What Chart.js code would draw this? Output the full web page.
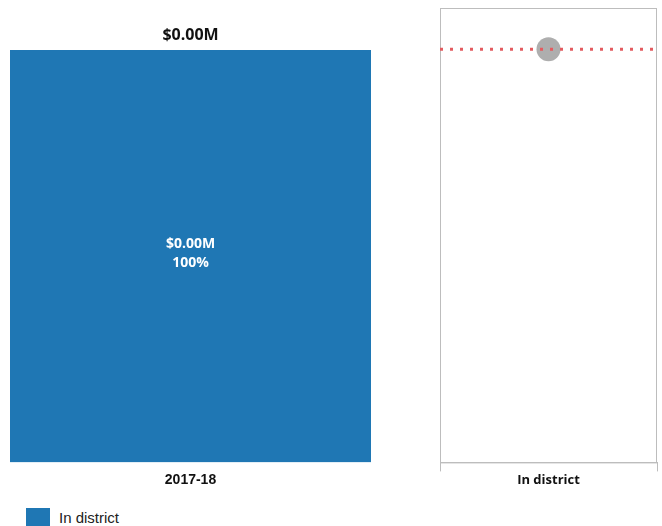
<!DOCTYPE html>
<html lang="en">
<head>
    <meta charset="UTF-8">
    <title>In district spending</title>
    <script src="https://cdn.jsdelivr.net/npm/chart.js"></script>
    <style>
        body { margin: 0; width: 662px; height: 526px; overflow: hidden; background: #fff; }
        #barWrap { position: absolute; left: 0; top: 0; width: 380px; height: 500px; }
        #dotWrap { position: absolute; left: 430px; top: 0; width: 232px; height: 500px; }
        #legend { position: absolute; left: 26px; top: 508px; font: 15px "Liberation Sans", Arial, sans-serif; color: #222; }
        #legend span.box { position: absolute; left: 0; top: 0; width: 24px; height: 24px; background: #1f77b4; }
        #legend span.txt { position: absolute; left: 33px; top: 1px; white-space: nowrap; }
    </style>
</head>
<body>
    <div id="barWrap"><canvas id="barChart"></canvas></div>
    <div id="dotWrap"><canvas id="dotChart"></canvas></div>
    <div id="legend"><span class="box"></span><span class="txt">In district</span></div>

    <script>
        // data
        const years = ['2017-18'];
        const seriesName = 'In district';
        const sharePct = [100];
        const amountLabels = ['$0.00M'];
        const totalLabels = ['$0.00M'];

        const categories = ['In district'];
        const pointValues = [0];
        const targetValues = [0];

        const blue = '#1f77b4';

        // labels on and above the stacked bar
        const barLabels = {
            id: 'barLabels',
            afterDatasetsDraw(chart) {
                const ctx = chart.ctx;
                const meta = chart.getDatasetMeta(0);
                ctx.save();
                ctx.textAlign = 'center';
                ctx.textBaseline = 'middle';
                meta.data.forEach((bar, i) => {
                    const mid = (bar.y + bar.base) / 2;
                    ctx.fillStyle = '#fff';
                    ctx.font = 'bold 14px "Open Sans"';
                    ctx.fillText(amountLabels[i], bar.x, mid - 12);
                    ctx.fillText(sharePct[i] + '%', bar.x, mid + 7);
                    ctx.fillStyle = '#111';
                    ctx.font = 'bold 16px "Open Sans"';
                    ctx.fillText(totalLabels[i], bar.x, bar.y - 15);
                });
                ctx.restore();
            }
        };

        new Chart(document.getElementById('barChart'), {
            type: 'bar',
            data: {
                labels: years,
                datasets: [{
                    label: seriesName,
                    data: sharePct,
                    backgroundColor: blue,
                    barPercentage: 1,
                    categoryPercentage: 1
                }]
            },
            options: {
                responsive: true,
                maintainAspectRatio: false,
                animation: false,
                layout: { autoPadding: false, padding: { left: 10, right: 9, top: 50, bottom: 9 } },
                plugins: { legend: { display: false }, tooltip: { enabled: false } },
                scales: {
                    x: {
                        stacked: true,
                        grid: { display: false },
                        border: { display: false },
                        ticks: { padding: 2, color: '#111', font: { family: '"Liberation Sans"', size: 14, weight: 'bold' } }
                    },
                    y: { stacked: true, display: false, min: 0, max: 100 }
                }
            },
            plugins: [barLabels]
        });

        // grey frame round the plot area
        const frame = {
            id: 'frame',
            beforeDatasetsDraw(chart) {
                const a = chart.chartArea;
                const ctx = chart.ctx;
                ctx.save();
                ctx.strokeStyle = '#bdbdbd';
                ctx.lineWidth = 1;
                ctx.strokeRect(a.left + 0.5, a.top + 0.5, a.right - a.left - 1, a.bottom - a.top);
                ctx.restore();
            }
        };

        new Chart(document.getElementById('dotChart'), {
            type: 'line',
            data: {
                datasets: [{
                    label: 'Target',
                    data: [{ x: 0, y: targetValues[0] }, { x: 1, y: targetValues[0] }],
                    borderColor: '#e35b5f',
                    borderWidth: 3,
                    borderDash: [3, 7],
                    pointRadius: 0,
                    fill: false
                }, {
                    label: categories[0],
                    data: pointValues.map(v => ({ x: 0.5, y: v })),
                    showLine: false,
                    pointRadius: 12,
                    pointBackgroundColor: '#aeaeae',
                    pointBorderWidth: 0
                }]
            },
            options: {
                responsive: true,
                maintainAspectRatio: false,
                animation: false,
                layout: { autoPadding: false, padding: { left: 10, right: 5, top: 8, bottom: 8 } },
                plugins: { legend: { display: false }, tooltip: { enabled: false } },
                scales: {
                    x: {
                        type: 'linear',
                        min: 0,
                        max: 1,
                        ticks: { display: false, stepSize: 1 },
                        grid: { drawOnChartArea: false, color: '#bdbdbd', tickLength: 9 },
                        border: { color: '#bdbdbd' },
                        title: {
                            display: true,
                            text: categories[0],
                            color: '#111',
                            padding: { top: 1, bottom: 4 },
                            font: { family: '"Open Sans"', size: 13, weight: 'bold' }
                        }
                    },
                    y: { display: false, min: -10, max: 1 }
                }
            },
            plugins: [frame]
        });
    </script>
</body>
</html>
